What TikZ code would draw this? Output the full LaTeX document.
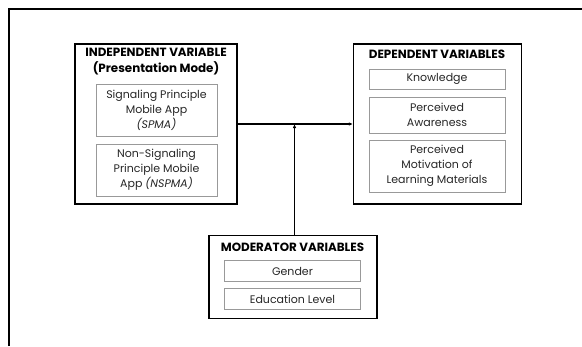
\documentclass[tikz,border=0pt]{standalone}
\usepackage{fontspec}
\setmainfont{Poppins}
\usetikzlibrary{arrows.meta}
\begin{document}
\begin{tikzpicture}[x=1pt,y=-1pt,
  outerbox/.style={draw=black,line width=1.2pt,inner sep=0pt},
  itembox/.style={draw=gray!80,line width=0.8pt,inner sep=0pt,align=center,
    font=\fontsize{11}{15}\selectfont,text=black!85},
  heading/.style={font=\fontsize{11.9}{16}\selectfont\bfseries,align=center,inner sep=0pt},
  link/.style={line width=1.3pt,-{Latex[length=4pt,width=3.5pt]}}]
\useasboundingbox (0,0) rectangle (582,346);
% page frame
\draw[line width=1.4pt] (9,346) -- (9,9) -- (582,9);

% independent variable block
\node[outerbox, minimum width=162pt, minimum height=160pt] (ind) at (156,124) {};
\node[heading] (indt) at (156,62) {INDEPENDENT VARIABLE\\(Presentation Mode)};
\node[itembox, minimum width=121pt, minimum height=52pt] (spma) at (156.5,110)
  {Signaling Principle\\Mobile App\\\textit{(SPMA)}};
\node[itembox, minimum width=121pt, minimum height=52pt] (nspma) at (156.5,170)
  {Non-Signaling\\Principle Mobile\\App \textit{(NSPMA)}};

% dependent variables block
\node[outerbox, minimum width=168pt, minimum height=160pt] (dep) at (437.5,124) {};
\node[heading] (dept) at (437,54) {DEPENDENT VARIABLES};
\node[itembox, minimum width=136pt, minimum height=20pt] (know) at (437,79) {Knowledge};
\node[itembox, minimum width=136pt, minimum height=36pt] (aware) at (437,115)
  {Perceived\\Awareness};
\node[itembox, minimum width=136pt, minimum height=52pt] (motiv) at (437,166)
  {Perceived\\Motivation of\\Learning Materials};

% moderator variables block
\node[outerbox, minimum width=168pt, minimum height=82.5pt] (mod) at (293,277) {};
\node[heading] (modt) at (292.5,247) {MODERATOR VARIABLES};
\node[itembox, minimum width=136pt, minimum height=20.5pt] (gender) at (292.5,271) {Gender};
\node[itembox, minimum width=136pt, minimum height=20.5pt] (edu) at (292.5,299) {Education Level};

% connectors
\coordinate (j) at (294.5,124);
\draw[link] (ind.east) -- (dep.west);
\draw[link] (mod.north -| j) -- (j);
\end{tikzpicture}
\end{document}
